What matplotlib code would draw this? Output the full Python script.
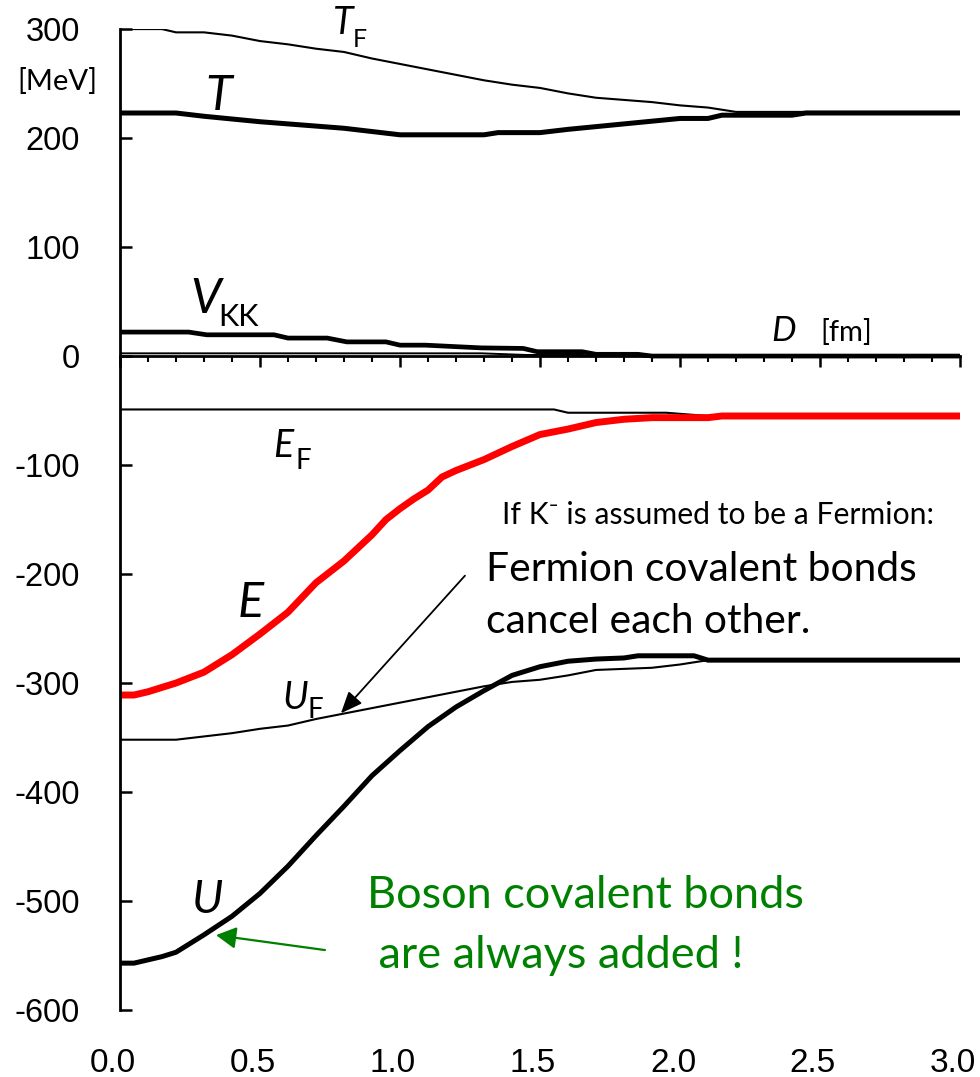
import matplotlib
matplotlib.use('Agg')
import matplotlib.pyplot as plt
from matplotlib.ticker import MultipleLocator
from matplotlib.transforms import ScaledTranslation

plt.rcParams['font.family'] = ['Lato', 'DejaVu Sans']
plt.rcParams['axes.unicode_minus'] = False

# ---------------- data ----------------
tf_x = [0, 0.15, 0.2, 0.3, 0.4, 0.5, 0.6, 0.7, 0.8, 0.9, 1.0, 1.1, 1.2, 1.3, 1.4,
        1.5, 1.6, 1.7, 1.8, 1.9, 2.0, 2.1, 2.2, 3.0]
tf_y = [300, 300, 297, 297, 294, 289, 286, 282, 279, 273, 268, 263, 258, 253, 249,
        246, 241, 237, 235, 233, 230, 228, 224, 224]

t_x = [0, 0.2, 0.3, 0.4, 0.5, 0.6, 0.7, 0.8, 0.9, 1.0, 1.3, 1.35, 1.5, 1.6, 1.7,
       1.8, 1.9, 2.0, 2.1, 2.15, 2.4, 2.45, 3.0]
t_y = [223, 223, 220, 217.5, 215, 213, 211, 209, 206, 203, 203, 205, 205, 208, 210.5,
       213, 215.5, 218, 218, 221, 221, 223, 223]

vkk_x = [0, 0.245, 0.31, 0.55, 0.6, 0.74, 0.81, 0.95, 1.0, 1.09, 1.29, 1.44, 1.49,
         1.65, 1.7, 1.85, 1.9, 3.0]
vkk_y = [22, 22, 19.5, 19.5, 16.5, 16.5, 13, 13, 10, 10, 7.5, 7, 4, 4, 1.6, 1.6, 0, 0]

vf_x = [0, 1.29, 1.45, 1.65, 1.7, 3.0]
vf_y = [2.5, 2.5, 1, 1, 0, 0]

ef_x = [0, 1.55, 1.6, 1.95, 2.05, 2.1, 3.0]
ef_y = [-49, -49, -52, -52, -54, -55, -55]

e_x = [0, 0.05, 0.1, 0.2, 0.3, 0.4, 0.5, 0.6, 0.7, 0.8, 0.9, 0.95, 1.0, 1.05, 1.1,
       1.15, 1.2, 1.3, 1.4, 1.5, 1.6, 1.7, 1.8, 1.9, 2.1, 2.15, 3.0]
e_y = [-311, -311, -308, -300, -290, -274, -255, -235, -208, -188, -164, -150, -140,
       -131, -123, -111, -105, -95, -83, -72, -67, -61, -58, -56.5, -56.5, -55, -55]

uf_x = [0, 0.2, 0.3, 0.4, 0.5, 0.6, 0.7, 0.8, 0.9, 1.0, 1.1, 1.2, 1.3, 1.4, 1.5,
        1.6, 1.7, 1.8, 1.9, 2.0, 2.1, 3.0]
uf_y = [-352, -352, -349, -346, -342, -339, -333, -328, -323, -318, -313, -308, -303,
        -299, -297, -293, -288, -287, -286, -283, -279, -279]

u_x = [0, 0.05, 0.1, 0.15, 0.2, 0.3, 0.4, 0.5, 0.6, 0.7, 0.8, 0.9, 1.0, 1.1, 1.2,
       1.3, 1.4, 1.5, 1.6, 1.7, 1.8, 1.85, 2.05, 2.1, 3.0]
u_y = [-557, -557, -554, -551, -547, -531, -514, -493, -468, -440, -413, -385, -362,
       -340, -322, -307, -293, -285, -280, -278, -277, -275, -275, -279, -279]

y_ticks = [-600, -500, -400, -300, -200, -100, 0, 100, 200, 300]
y_labels = ['-600', '-500', '-400', '-300', '-200', '-100', '0', '100', '200', '300']
x_ticks = [0.0, 0.5, 1.0, 1.5, 2.0, 2.5, 3.0]
x_labels = ['0.0', '0.5', '1.0', '1.5', '2.0', '2.5', '3.0']

# ---------------- figure ----------------
fig = plt.figure(figsize=(9.8, 10.77), dpi=100)
ax = fig.add_axes([0.12245, 0.0622, 0.85714, 0.9108])
ax.set_xlim(0, 3.0)
ax.set_ylim(-600, 300)

ax.plot(vf_x, vf_y, color='black', lw=1.4)
ax.plot(vkk_x, vkk_y, color='black', lw=3.4, solid_joinstyle='round')
ax.plot(tf_x, tf_y, color='black', lw=1.5)
ax.plot(t_x, t_y, color='black', lw=3.6, solid_joinstyle='round')
ax.plot(ef_x, ef_y, color='black', lw=1.5)
ax.plot(uf_x, uf_y, color='black', lw=1.5)
ax.plot(u_x, u_y, color='black', lw=3.6, solid_joinstyle='round')
ax.plot(e_x, e_y, color='#ff0000', lw=5, solid_joinstyle='round')

for s in ['top', 'right']:
    ax.spines[s].set_visible(False)
ax.spines['bottom'].set_position(('data', 0))
ax.spines['left'].set_linewidth(2)
ax.spines['bottom'].set_linewidth(2)

ax.set_yticks(y_ticks)
ax.set_yticklabels(y_labels)
ax.tick_params(axis='y', direction='in', length=8.6, width=1.8, pad=29, labelsize=23.5)
for lab in ax.get_yticklabels():
    lab.set_fontfamily('Liberation Sans')

ax.set_xticks(x_ticks)
ax.xaxis.set_minor_locator(MultipleLocator(0.1))
ax.tick_params(axis='x', which='major', direction='out', length=8, width=1.8,
               labelbottom=False)
ax.tick_params(axis='x', which='minor', direction='out', length=4.3, width=1.5)

sec = ax.secondary_xaxis('bottom')
sec.set_xticks(x_ticks, labels=x_labels)
sec.tick_params(length=0, pad=27, labelsize=24)
sec.spines['bottom'].set_visible(False)
off = ScaledTranslation(-0.07, 0, fig.dpi_scale_trans)
for lab in sec.get_xticklabels():
    lab.set_fontfamily('Liberation Sans')
    lab.set_transform(lab.get_transform() + off)


def lbl(x, y, s, size, italic=True, color='black', ha='left', va='baseline'):
    ax.text(x, y, s, fontsize=size, style='italic' if italic else 'normal',
            color=color, ha=ha, va=va, clip_on=False)


lbl(0.761, 295.5, 'T', 27)
lbl(0.832, 284, 'F', 18, italic=False)
lbl(0.305, 226, 'T', 35)
lbl(0.25, 39.7, 'V', 35)
lbl(0.35, 27.5, 'KK', 22, italic=False)
lbl(2.327, 13.7, 'D', 25)
lbl(2.5, 13.7, '[fm]', 21, italic=False)
lbl(0.547, -93, 'E', 27)
lbl(0.625, -103.8, 'F', 20, italic=False)
lbl(0.419, -239.6, 'E', 35)
lbl(0.581, -323.6, 'U', 27)
lbl(0.671, -332, 'F', 20, italic=False)
lbl(0.256, -511, 'U', 33)
lbl(-0.225, 252, '[MeV]', 21, italic=False, ha='center', va='center')

lbl(1.364, -154, 'If K⁻ is assumed to be a Fermion:', 21.7, italic=False)
lbl(1.307, -206, 'Fermion covalent bonds', 29.3, italic=False)
lbl(1.307, -253.7, 'cancel each other.', 29.3, italic=False)
green = '#008000'
lbl(0.882, -506.4, 'Boson covalent bonds', 32.5, italic=False, color=green)
lbl(0.882, -561.4, ' are always added !', 32.5, italic=False, color=green)

ax.annotate('', xy=(0.789, -327.8), xytext=(1.232, -201.5),
            arrowprops=dict(arrowstyle='-|>,head_length=0.6,head_width=0.25',
                            color='black', lw=1.3, mutation_scale=22,
                            shrinkA=0, shrinkB=0))
ax.annotate('', xy=(0.343, -531.3), xytext=(0.732, -545),
            arrowprops=dict(arrowstyle='-|>,head_length=0.55,head_width=0.3',
                            color=green, lw=1.6, mutation_scale=22,
                            shrinkA=0, shrinkB=0))

fig.savefig('out.png', dpi=100)
